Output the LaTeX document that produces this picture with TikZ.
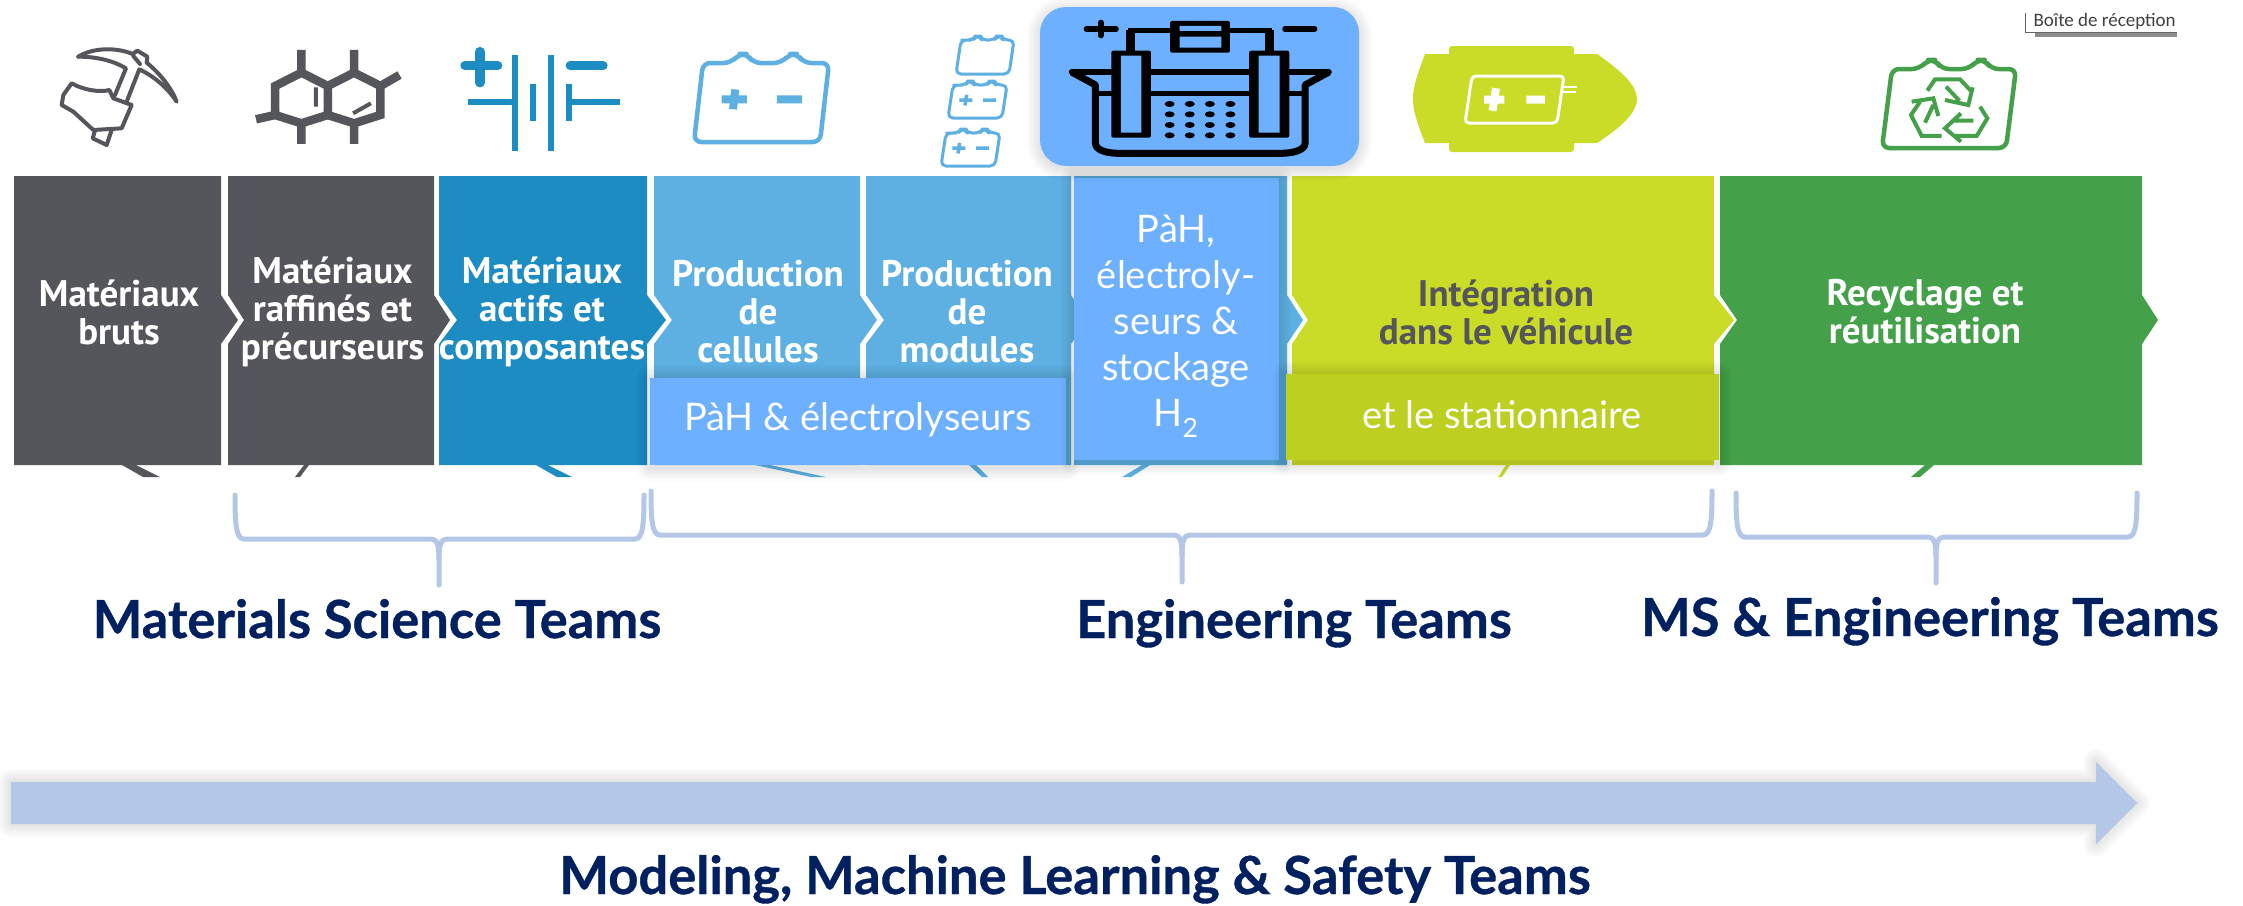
\documentclass[tikz,border=0pt]{standalone}
\usepackage{fontspec}
\setmainfont{Lato}
\newfontfamily\din{PT Sans}
\newfontfamily\uifont{Carlito}
\newfontfamily\teamfont[BoldFeatures={FakeBold=0.7}]{Lato}
\definecolor{cgray}{HTML}{55565B}
\definecolor{cblue}{HTML}{1C8CC3}
\definecolor{clight}{HTML}{5EB0E3}
\definecolor{clime}{HTML}{CBDC28}
\definecolor{cgreen}{HTML}{44A149}
\definecolor{cover}{HTML}{6CB0FF}
\definecolor{climeo}{HTML}{BDCF21}
\definecolor{cbrack}{HTML}{B4C7E7}
\definecolor{cnavy}{HTML}{002060}
\tikzset{
  head/.style={font=\din\bfseries\fontsize{37}{38}\selectfont,align=center,text=white},
  over/.style={font=\fontsize{38}{46}\selectfont,align=center,text=white},
  team/.style={font=\teamfont\bfseries\fontsize{52.5}{54}\selectfont,text=cnavy,anchor=base},
  brack/.style={draw=cbrack,line width=5pt,line cap=round},
  zoomone/.style={x=0.4785pt,y=-0.3333pt},
  zoomcrop/.style={x=0.3333pt,y=-0.3333pt},
  vb/.style={line width=9pt},
  hb/.style={line width=5.5pt},
}
% L, R, tip, notch, colour
\newcommand{\segment}[5]{\fill[#5] (#1,176)--(#2,176)--(#2,295)--(#3,320)--(#2,344)--(#2,465)--(#1,465)--(#1,344)--(#4,320)--(#1,295)--cycle;}
\newcommand{\softshadow}[1]{\foreach \w in {2,6,10,14,18,22,26}{\draw[black,opacity=.017,line width=\w pt,line join=round] #1;}}
\newcommand{\stub}[7]{\fill[#7] (#1,#5)--(#2,#5)--(#4,#6)--(#3,#6)--cycle;}
\newcommand{\bracket}[6]{\draw[brack] (#1,#4) .. controls (#1,#5-15) and (#1+1,#5) .. (#1+9,#5) -- (#3-8,#5) .. controls (#3-2,#5) and (#3,#5+6) .. (#3,#5+20) -- (#3,#6);
 \draw[brack] (#2,#4) .. controls (#2,#5-15) and (#2-1,#5) .. (#2-9,#5) -- (#3+8,#5) .. controls (#3+2,#5) and (#3,#5+6) .. (#3,#5+20);}
% x0,y0,w,h,s,lw,colour,extra
\newcommand{\battery}[8]{\begin{scope}[shift={(#1,#2)},x={(#3pt,0pt)},y={(-#5pt,-#4pt)}]
 \draw[#7,line width=#6pt,rounded corners=#6pt*1.6,line join=round] (.1,0)--(.22,0)--(.28,-.115)--(.34,-.115)--(.40,0)--(.62,0)--(.68,-.115)--(.74,-.115)--(.80,0)--(1,0)--(1,1)--(0,1)--(0,0)--cycle;
 #8
 \end{scope}}
\newcommand{\bsigns}[4]{\draw[#1,line width=#2pt] (.28-#3,.46)--(.28+#3,.46) (.28,.46-#4)--(.28,.46+#4) (.72-#3,.46)--(.72+#3,.46);}
\begin{document}
\begin{tikzpicture}[x=1pt,y=-1pt]
\useasboundingbox (0,0) rectangle (2243,905);
\fill[white] (0,0) rectangle (2243,905);

% stubs below the chain
\stub{122}{136}{143}{160}{465}{477}{cgray}
\stub{304}{309}{295}{300}{465}{477}{cgray}
\stub{536}{548}{557}{572}{465}{477}{cblue}
\stub{755}{770}{811}{826}{465}{477}{clight}
\stub{969}{976}{982}{988}{465}{477}{clight}
\stub{1142}{1150}{1122}{1131}{465}{477}{clight}
\stub{1506}{1510}{1498}{1502}{465}{477}{clime}
\stub{1925}{1934}{1911}{1920}{465}{477}{cgreen}

% chain
\fill[cgray] (14,176)--(221,176)--(221,295)--(238,320)--(221,344)--(221,465)--(14,465)--cycle;
\segment{228}{434}{450}{244}{cgray}
\segment{439}{647}{666}{457}{cblue}
\segment{654}{860}{877}{672}{clight}
\segment{866}{1071}{1088}{884}{clight}
\segment{1074}{1287}{1303}{1090}{clight}
\segment{1292}{1714}{1734}{1308}{clime}
\fill[cgreen] (1720,176)--(2142,176)--(2142,295)--(2158,320)--(2142,344)--(2142,465)--(1720,465)--(1720,344)--(1737,320)--(1720,295)--cycle;

\node[head] (n1) at (119,312) {Matériaux\\bruts};
\node[head] (n2) at (332.5,312) {Matériaux\\raffinés et\\précurseurs};
\node[head] (n3) at (542,312) {Matériaux\\actifs et\\composantes};
\node[head] (n4) at (758,312) {Production\\de\\cellules};
\node[head] (n5) at (967,312) {Production\\de\\modules};
\node[head,text=cgray] (n7) at (1506,312) {Intégration\\dans le véhicule};
\node[head] (n8) at (1925,312) {Recyclage et\\réutilisation};

% overlays
\softshadow{(650,378) rectangle (1066,468)}
\fill[cover] (650,378) rectangle (1066,465);
\node[over] (o1) at (858,420) {PàH \& électrolyseurs};
\softshadow{(1074,178) rectangle (1279,462)}
\fill[cover] (1074,178) rectangle (1279,460);
\node[over] (o2) at (1176,326) {PàH,\\électroly-\\seurs \&\\stockage\\H\textsubscript{2}};
\softshadow{(1286,374) rectangle (1719,463)}
\fill[climeo] (1286,374) rectangle (1719,460);
\node[over] (o3) at (1502,415) {et le stationnaire};

% pick
\begin{scope}[shift={(50,40)},zoomcrop,cgray,line join=round,line cap=round,line width=4pt]
 \draw (85,50) .. controls (130,22) and (200,22) .. (248,42) -- (262,32) -- (292,50) -- (290,68) .. controls (330,100) and (365,145) .. (380,185) .. controls (350,140) and (310,108) .. (268,88) -- (230,185);
 \draw (85,50) .. controls (140,50) and (190,62) .. (228,85) -- (195,165);
 \draw (250,48) -- (270,72);
 \draw (178,150) .. controls (150,158) and (100,150) .. (65,130) -- (40,165) -- (35,195) -- (70,215) -- (130,270) -- (215,265) -- (245,195) -- (190,175) -- cycle;
 \draw (135,272) -- (128,295) -- (170,315) -- (185,270);
\end{scope}
% hexagons
\begin{scope}[zoomone,cgray,line join=miter]
 \draw[line width=8.5pt] (630,218)--(685,258)--(685,345)--(630,370)--(575,345)--(575,258)--cycle;
 \draw[line width=8.5pt] (740,218)--(795,258)--(795,345)--(740,370)--(685,345) (685,258)--(740,218);
 \draw[line width=8.5pt] (630,218)--(630,150) (740,218)--(740,150) (795,258)--(835,225) (575,345)--(535,358) (630,370)--(630,432) (740,370)--(740,432);
 \draw[line width=4pt] (660,262)--(660,320) (738,340)--(775,310);
\end{scope}
% battery symbol
\begin{scope}[zoomone,cblue]
 \draw[line width=9.5pt,line cap=round] (1003,155)--(1003,248) (972,197)--(1040,197) (1192,197)--(1260,197);
 \draw[line width=6pt] (1077,165)--(1077,452) (1152,165)--(1152,452) (1114,252)--(1114,362) (1189,252)--(1189,362) (977,305)--(1077,305) (1189,305)--(1295,305);
\end{scope}
\battery{703}{63}{126}{79}{9}{4.5}{clight}{\bsigns{clight}{8}{.10}{.125}}
\battery{961}{40}{53}{34}{5}{3}{clight}{}
\battery{953}{85}{54}{33}{5}{3}{clight}{\bsigns{clight}{3.5}{.12}{.16}}
\battery{946}{133}{54}{33}{5}{3}{clight}{\bsigns{clight}{3.5}{.12}{.16}}

% electrolyser
\softshadow{[rounded corners=26pt] (1040,10) rectangle (1359,168)}
\fill[cover,rounded corners=26pt] (1040,7) rectangle (1359,166);
\begin{scope}[shift={(750,0)},zoomone]
 \draw[hb,line cap=round] (703,87)--(765,87) (1118,87)--(1180,87);
 \draw[vb,line cap=round,line width=6pt] (733,68)--(733,106);
 \draw[vb] (795,155)--(795,90) (1085,155)--(1085,90);
 \draw[hb] (790,92)--(880,92) (1003,92)--(1090,92);
 \fill[black,rounded corners=2pt] (878,63) rectangle (1003,158);
 \fill[cover] (898,78) rectangle (985,93) (898,110) rectangle (985,143);
 \draw[hb,line join=round,line cap=round] (672,216)--(1210,216);
 \draw[vb,line width=7pt,line join=round] (672,216)--(722,255)--(722,430) .. controls (722,450) and (745,460) .. (770,460) -- (1110,460) .. controls (1135,460) and (1160,450) .. (1160,430) -- (1160,255) -- (1210,216);
 \draw[hb] (722,280)--(1160,280);
 \fill[black,rounded corners=2pt] (755,152) rectangle (838,413) (1043,152) rectangle (1127,413);
 \fill[cover] (775,167) rectangle (818,398) (1063,167) rectangle (1107,398);
 \foreach \dx in {877,919,961,1004}{\foreach \dy in {312,343,375,406}{\fill[black] (\dx,\dy) ellipse [x radius=5pt,y radius=3pt];}}
\end{scope}

% car
\fill[clime,rounded corners=3pt] (1449,46) rectangle (1574,60) (1449,138) rectangle (1574,152);
\fill[clime] (1425,54) -- (1597,54) .. controls (1620,70) and (1637,85) .. (1637,99) .. controls (1637,113) and (1620,128) .. (1597,143) -- (1425,143) .. controls (1416,120) and (1413,110) .. (1413,99) .. controls (1413,88) and (1416,78) .. (1425,54) -- cycle;
\begin{scope}[shift={(1472,76)},x={(92pt,0pt)},y={(-7pt,-47pt)}]
 \draw[white,line width=3pt,rounded corners=4pt] (.5,0)--(1,0)--(1,1)--(0,1)--(0,0)--cycle;
 \draw[white,line width=8pt] (.17,.5)--(.39,.5) (.28,.26)--(.28,.74) (.63,.5)--(.83,.5);
 \draw[white,line width=2.5pt] (1,.23)--(1.16,.23) (1,.34)--(1.16,.34);
\end{scope}

% recycled battery
\battery{1892}{69}{124}{79}{10}{4.5}{cgreen}{}
\begin{scope}[shift={(1880,50)},zoomcrop,cgreen,line join=miter,line width=4pt]
 \draw (142,122)--(165,88)--(240,88)--(272,122);
 \draw (195,150)--(265,165)--(278,112) (198,110)--(238,152);
 \draw (185,258)--(125,258)--(93,195)--(120,155);
 \draw (95,155)--(160,145)--(175,198) (135,218)--(160,165);
 \draw (300,170)--(322,205)--(290,258)--(225,258);
 \draw (243,190)--(195,235)--(243,275) (280,212)--(215,212);
\end{scope}

% window tab
\fill[black!45] (2035,33) rectangle (2177,37);
\draw[black!60,line width=1pt] (2025,13)--(2025,32)--(2177,32);
\node[font=\uifont\fontsize{19}{20}\selectfont,text=black!75,anchor=base west] (tab) at (2030,26) {Boîte de réception};

% brackets
\bracket{235}{644}{439}{495}{539}{585}
\bracket{651}{1712}{1182}{491}{535}{582}
\bracket{1736}{2137}{1936}{493}{537}{583}

\node[team] (t1) at (377,638) {Materials Science Teams};
\node[team] (t2) at (1294,638) {Engineering Teams};
\node[team] (t3) at (1930,636) {MS \& Engineering Teams};

% long arrow
\softshadow{(11,782)--(2096,782)--(2096,762)--(2137,803)--(2096,844)--(2096,824)--(11,824)--cycle}
\fill[cbrack] (11,782)--(2096,782)--(2096,762)--(2137,803)--(2096,844)--(2096,824)--(11,824)--cycle;
\node[team] (t4) at (1075,894) {Modeling, Machine Learning \& Safety Teams};
\end{tikzpicture}
\end{document}
